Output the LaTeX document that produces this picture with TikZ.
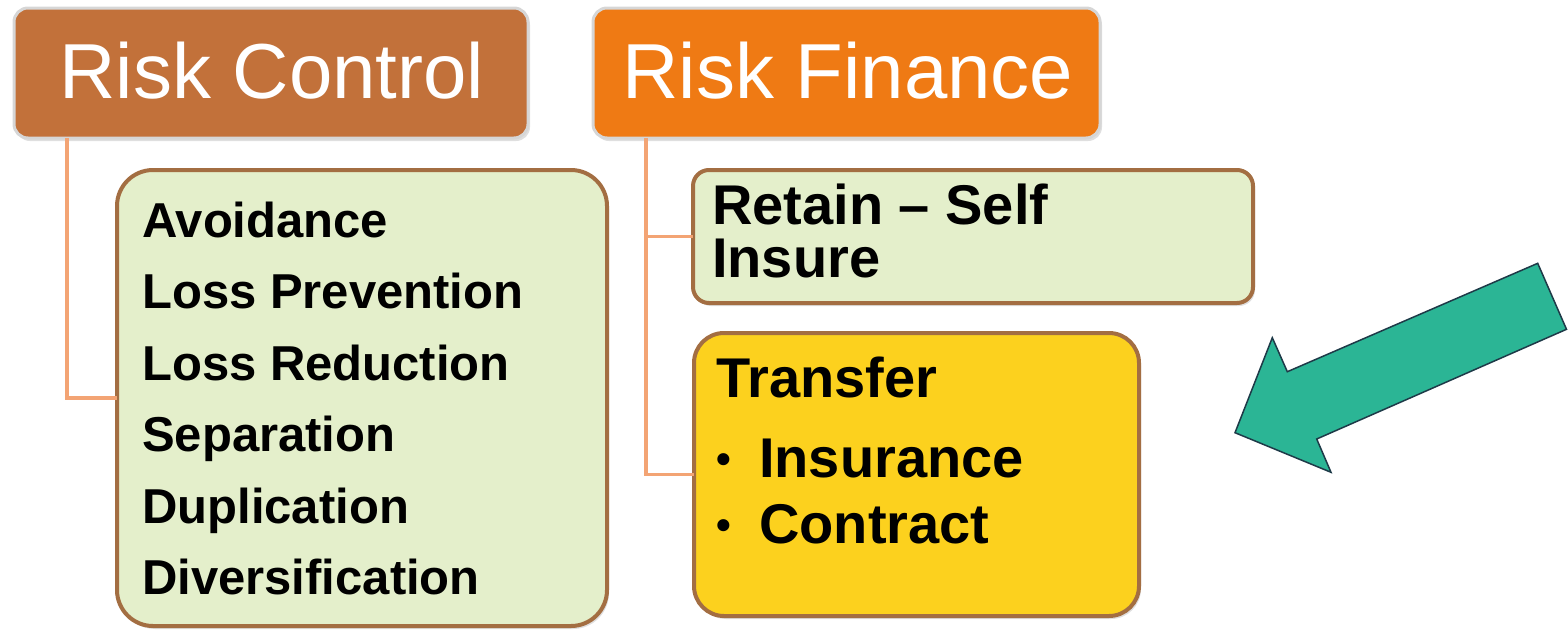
\documentclass[tikz,border=0pt]{standalone}
\usepackage{fontspec}
\setmainfont{Liberation Sans}
\usetikzlibrary{shadows}
\definecolor{rcfill}{HTML}{C2713A}
\definecolor{rffill}{HTML}{EF7A14}
\definecolor{hdrrim}{HTML}{D6D6D6}
\definecolor{grnfill}{HTML}{E4EFCB}
\definecolor{boxedge}{HTML}{A36E42}
\definecolor{yelfill}{HTML}{FCD11E}
\definecolor{conncol}{HTML}{F3A474}
\definecolor{arrfill}{HTML}{2BB595}
\definecolor{arredge}{HTML}{1E3A48}
\tikzset{
  hdrbox/.style={draw=hdrrim, line width=3pt, rounded corners=14pt, inner sep=0pt, outer sep=0pt,
    drop shadow={opacity=0.25, shadow xshift=2pt, shadow yshift=-3pt}},
  itembox/.style={draw=boxedge, line width=4pt, inner sep=0pt, outer sep=0pt,
    drop shadow={opacity=0.25, shadow xshift=2pt, shadow yshift=-3pt}},
  hdrtext/.style={inner sep=0pt, anchor=base, text=white, font=\fontsize{78}{78}\selectfont},
  grntext/.style={inner sep=0pt, anchor=base west, font=\bfseries\fontsize{49}{49}\selectfont},
  rtext/.style={inner sep=0pt, anchor=base west, font=\bfseries\fontsize{56}{56}\selectfont},
  bultext/.style={inner sep=0pt, anchor=base west, font=\bfseries\fontsize{42}{42}\selectfont},
  conn/.style={draw=conncol, line width=3.5pt},
}
\begin{document}
\begin{tikzpicture}[x=1pt,y=-1pt]
\useasboundingbox (0,0) rectangle (1568,630);
% header boxes
\node[hdrbox, fill=rcfill, minimum width=514pt, minimum height=130pt] (rc) at (271,73) {};
\node[hdrbox, fill=rffill, minimum width=507pt, minimum height=130pt] (rf) at (846.5,73) {};
\node[hdrtext] (rct) at (272,98) {Risk Control};
\node[hdrtext] (rft) at (848,98) {Risk Finance};
% connector start points
\coordinate (rcdrop) at ([xshift=53pt]rc.south west);
\coordinate (rfdrop) at ([xshift=53pt]rf.south west);
% item boxes
\node[itembox, fill=grnfill, rounded corners=36pt, minimum width=490pt, minimum height=456pt] (ctl) at (362,398) {};
\node[itembox, fill=grnfill, rounded corners=16pt, minimum width=560pt, minimum height=133pt] (ret) at (973,236.5) {};
\node[itembox, fill=yelfill, rounded corners=30pt, minimum width=445pt, minimum height=283pt] (trf) at (916.5,474.5) {};
\draw[conn] (rcdrop) |- (ctl.west);
\draw[conn] (rfdrop) |- (ret.west);
\draw[conn] (rfdrop) |- (trf.west);
% control items
\node[grntext] (c1) at (142,237) {Avoidance};
\node[grntext] (c2) at (142,308.5) {Loss Prevention};
\node[grntext] (c3) at (142,380) {Loss Reduction};
\node[grntext] (c4) at (142,451.5) {Separation};
\node[grntext] (c5) at (142,523) {Duplication};
\node[grntext] (c6) at (142,594.5) {Diversification};
% retain
\node[rtext] (r1) at (712,224) {Retain – Self};
\node[rtext] (r2) at (712,277) {Insure};
% transfer
\node[rtext] (t1) at (716,397) {Transfer};
\node[bultext] (tb1) at (716,473) {•};
\node[rtext] (t2) at (759,477) {Insurance};
\node[bultext] (tb2) at (716,539) {•};
\node[rtext] (t3) at (759,543) {Contract};
% big arrow
\draw[fill=arrfill, draw=arredge, line width=1.5pt, line join=miter]
  (1537.7,263.3) coordinate (a1) -- (1566.5,329.3) coordinate (a2) -- (1316.7,439) coordinate (a3)
  -- (1331,472.3) coordinate (a4) -- (1235,432.7) coordinate (a5) -- (1272.3,337.7) coordinate (a6)
  -- (1287.3,371.7) coordinate (a7) -- cycle;
\end{tikzpicture}
\end{document}
